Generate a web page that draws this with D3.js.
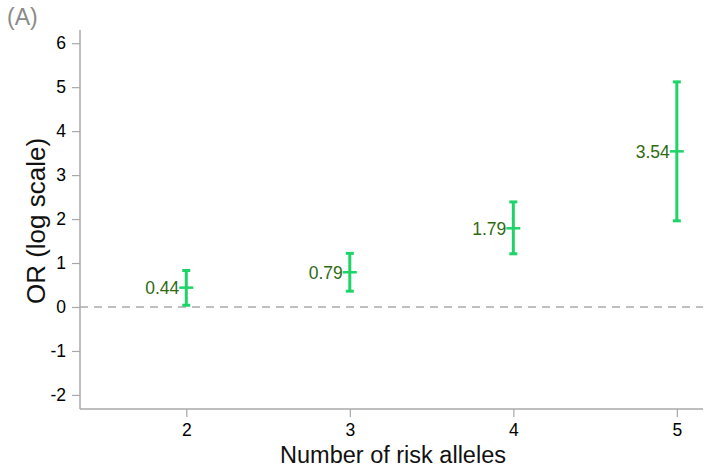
<!DOCTYPE html>
<html><head><meta charset="utf-8">
<script src="https://cdn.jsdelivr.net/npm/d3@7"></script>
<style>body{margin:0;background:#fff}svg{display:block}</style>
</head><body>
<script>
const categories = [2, 3, 4, 5];
const orValues = [0.44, 0.79, 1.79, 3.54];
const lowerCI = [0.04, 0.36, 1.21, 1.96];
const upperCI = [0.83, 1.22, 2.39, 5.12];
const labels = ["0.44", "0.79", "1.79", "3.54"];
const yTicks = [-2, -1, 0, 1, 2, 3, 4, 5, 6];

(function () {
const W = 705, H = 468;
const svg = d3.select("body").append("svg").attr("width", W).attr("height", H);
const mLeft = 80, mBottom = 409, mTop = 30, mRight = 703;
const x = d3.scaleLinear().domain([1.35, 5.16]).range([mLeft, mRight]);
const y = d3.scaleLinear().domain([-2.32, 6.3]).range([mBottom, mTop]);
const font = "Arial, 'Liberation Sans', sans-serif";
const axisCol = "#a8a8a8";

const yAxis = svg.append("g").attr("transform", `translate(${mLeft},0)`)
  .call(d3.axisLeft(y).tickValues(yTicks).tickSize(8).tickPadding(6).tickFormat(d => String(d)));
const xAxis = svg.append("g").attr("transform", `translate(0,${mBottom})`)
  .call(d3.axisBottom(x).tickValues(categories).tickSize(8).tickPadding(7).tickFormat(d => String(d)));
[yAxis, xAxis].forEach(g => {
  g.attr("font-size", null).attr("font-family", null);
  g.select(".domain").attr("stroke", axisCol).attr("stroke-width", 1.5);
  g.selectAll(".tick line").attr("stroke", axisCol).attr("stroke-width", 1.2);
  g.selectAll(".tick text").attr("fill", "#000").style("font-family", font).style("font-size", "17.5px");
});
yAxis.select(".domain").attr("d", `M0,${mTop}V${mBottom}`);
xAxis.select(".domain").attr("d", `M${mLeft},0H${mRight}`);

svg.append("line").attr("x1", mLeft).attr("x2", mRight).attr("y1", y(0)).attr("y2", y(0))
  .attr("stroke", "#aaaaaa").attr("stroke-width", 1.6).attr("stroke-dasharray", "8,6");

const green = "#1ed468";
const g = svg.append("g");
categories.forEach((c, i) => {
  const cx = x(c);
  g.append("line").attr("x1", cx).attr("x2", cx).attr("y1", y(lowerCI[i])).attr("y2", y(upperCI[i]))
    .attr("stroke", green).attr("stroke-width", 3);
  [lowerCI[i], upperCI[i]].forEach(v => {
    g.append("line").attr("x1", cx - 4).attr("x2", cx + 4).attr("y1", y(v)).attr("y2", y(v))
      .attr("stroke", green).attr("stroke-width", 3);
  });
  g.append("line").attr("x1", cx - 7).attr("x2", cx + 7).attr("y1", y(orValues[i])).attr("y2", y(orValues[i]))
    .attr("stroke", green).attr("stroke-width", 2.5);
  g.append("text").attr("x", cx - 7).attr("y", y(orValues[i])).attr("dy", "0.36em")
    .attr("text-anchor", "end").attr("fill", "#2f6a12")
    .style("font-family", font).style("font-size", "17.5px").text(labels[i]);
});

svg.append("text").attr("x", 393).attr("y", 463).attr("text-anchor", "middle")
  .attr("fill", "#111").style("font-family", font).style("font-size", "23.5px").text("Number of risk alleles");
svg.append("text").attr("transform", `translate(36,221) rotate(-90)`).attr("dy", "0.35em").attr("text-anchor", "middle")
  .attr("fill", "#111").style("font-family", font).style("font-size", "26px").text("OR (log scale)");
svg.append("text").attr("x", 7).attr("y", 25).attr("fill", "#8a8a8a")
  .style("font-family", font).style("font-size", "23px").text("(A)");
})();
</script>
</body></html>
